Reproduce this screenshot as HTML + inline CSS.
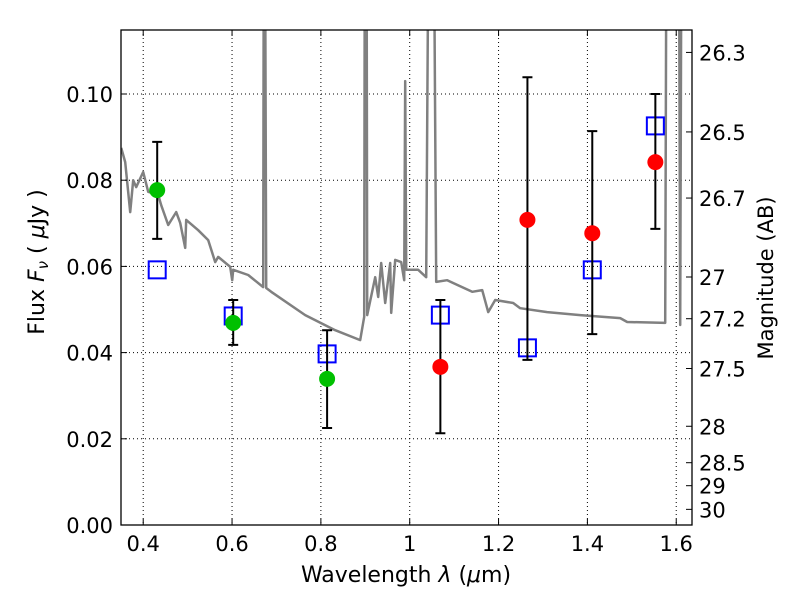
<!DOCTYPE html>
<html><head><meta charset="utf-8"><style>
html,body{margin:0;padding:0;background:#fff;}
svg text{font-family:"DejaVu Sans","Liberation Sans",sans-serif;fill:#000;}
</style></head><body>
<svg id="chart" width="800" height="600" viewBox="0 0 800 600" xmlns="http://www.w3.org/2000/svg">
<defs><clipPath id="clip"><rect x="121" y="30" width="571" height="495"/></clipPath></defs>
<rect x="0" y="0" width="800" height="600" fill="#fff"/>
<g id="grid"></g>
<g id="spec" clip-path="url(#clip)"></g>
<g id="marks"></g>
<rect x="121" y="30" width="571" height="495" fill="none" stroke="#000" stroke-width="1.3"/>
<g id="axes"></g>
<text x="406" y="582" font-size="22" text-anchor="middle">Wavelength  <tspan font-style="italic">λ</tspan> (<tspan font-style="italic">μ</tspan>m)</text>
<text transform="translate(44,262) rotate(-90)" font-size="22" text-anchor="middle">Flux  <tspan font-style="italic">F</tspan><tspan font-style="italic" font-size="15" dy="4">ν</tspan><tspan dy="-4">  (  </tspan><tspan font-style="italic">μ</tspan>Jy )</text>
<text transform="translate(773,278) rotate(-90)" font-size="21" text-anchor="middle">Magnitude (AB)</text>
</svg>
<script>
const specWave=[0.3505,0.3595,0.3707,0.3775,0.3842,0.4,0.4113,0.4338,0.4405,0.4563,0.4743,0.4833,0.4946,0.4968,0.5238,0.5463,0.5621,0.5689,0.5959,0.6004,0.6026,0.6364,0.6702,0.6724,0.6769,0.6882,0.7647,0.8323,0.8886,0.8976,0.8998,0.9021,0.9043,0.9223,0.9291,0.9358,0.9448,0.9561,0.9583,0.9673,0.9809,0.9876,0.9899,0.9921,1.0191,1.0371,1.0462,1.0507,1.0597,1.0844,1.1069,1.1407,1.1632,1.1767,1.1925,1.2330,1.2488,1.3096,1.3839,1.4739,1.4897,1.5752,1.5797,1.6045,1.6090,1.6135,1.636];
const specFlux=[0.0875,0.0842,0.0726,0.0800,0.0784,0.0819,0.0773,0.0766,0.0742,0.0696,0.0726,0.0701,0.0643,0.0708,0.0684,0.0661,0.0610,0.0622,0.0599,0.0568,0.0592,0.0580,0.0552,0.2,0.0550,0.0541,0.0487,0.0452,0.0429,0.0483,0.2,0.2,0.0487,0.0575,0.0529,0.0608,0.0515,0.0608,0.0492,0.0615,0.0610,0.0568,0.1030,0.0592,0.0592,0.0575,0.2,0.2,0.0564,0.0568,0.0557,0.0541,0.0545,0.0494,0.0522,0.0515,0.0503,0.0494,0.0487,0.0480,0.0471,0.0469,0.2,0.2,0.0464,0.2,0.2];
const obsWave=[0.4315,0.6026,0.814,1.069,1.265,1.411,1.553];
const obsFlux=[0.0777,0.0469,0.0339,0.0367,0.0708,0.0677,0.0842];
const obsLo=[0.0664,0.0418,0.0225,0.0213,0.0383,0.0443,0.0687];
const obsHi=[0.0889,0.0522,0.0452,0.0522,0.1039,0.0914,0.1000];
const obsColor=['green','green','green','red','red','red','red'];
const modelFlux=[0.0592,0.0485,0.0397,0.0487,0.0411,0.0592,0.0926];
const xTicks=[0.4,0.6,0.8,1.0,1.2,1.4,1.6];
const xTickLabels=['0.4','0.6','0.8','1','1.2','1.4','1.6'];
const yTicks=[0,0.02,0.04,0.06,0.08,0.10];
const yTickLabels=['0.00','0.02','0.04','0.06','0.08','0.10'];
const magTicks=[26.3,26.5,26.7,27,27.2,27.5,28,28.5,29,30];
const magTickLabels=['26.3','26.5','26.7','27','27.2','27.5','28','28.5','29','30'];

const NS='http://www.w3.org/2000/svg';
const X0=121,X1=692,Y0=525,Y1=30,xmin=0.35,xmax=1.6355,ymin=0,ymax=0.11485;
function sx(v){return X0+(v-xmin)/(xmax-xmin)*(X1-X0);}
function sy(v){return Y0-(v-ymin)/(ymax-ymin)*(Y0-Y1);}
function magY(m){return sy(Math.pow(10,(23.9-m)/2.5));}
function mk(tag,attrs,parent){const e=document.createElementNS(NS,tag);for(const k in attrs)e.setAttribute(k,attrs[k]);parent.appendChild(e);return e;}
const grid=document.getElementById('grid'),spec=document.getElementById('spec'),marks=document.getElementById('marks'),axes=document.getElementById('axes');

xTicks.forEach((t,i)=>{
  const x=sx(t);
  const g=mk('line',{x1:x,x2:x,y1:Y1,y2:Y0,stroke:'#000','stroke-width':1,'stroke-dasharray':'1,3'},grid);
  
  
  mk('line',{x1:x,x2:x,y1:Y0,y2:Y0-6,stroke:'#000','stroke-width':1},axes);
  mk('line',{x1:x,x2:x,y1:Y1,y2:Y1+6,stroke:'#000','stroke-width':1},axes);
  const tx=mk('text',{x:x,y:Y0+26,'font-size':21,'text-anchor':'middle'},axes);
  tx.textContent=xTickLabels[i];
  
  
});
yTicks.forEach((t,i)=>{
  const y=sy(t);
  if(t>0){const g=mk('line',{x1:X0,x2:X1,y1:y,y2:y,stroke:'#000','stroke-width':1,'stroke-dasharray':'1,3'},grid);
  
  }
  mk('line',{x1:X0,x2:X0+6,y1:y,y2:y,stroke:'#000','stroke-width':1},axes);
  const tx=mk('text',{x:X0-8,y:y+8,'font-size':21,'text-anchor':'end'},axes);
  tx.textContent=yTickLabels[i];
  
  
});
magTicks.forEach((m,i)=>{
  const y=magY(m);
  mk('line',{x1:X1,x2:X1-6,y1:y,y2:y,stroke:'#000','stroke-width':1},axes);
  const tx=mk('text',{x:X1+7,y:y+8,'font-size':21,'text-anchor':'start'},axes);
  tx.textContent=magTickLabels[i];
  
  
});

const pts=specWave.map((w,i)=>sx(w).toFixed(1)+','+sy(specFlux[i]).toFixed(1)).join(' ');
const pl=mk('polyline',{points:pts,fill:'none',stroke:'#808080','stroke-width':2.5,'stroke-linejoin':'round'},spec);



obsWave.forEach((w,i)=>{
  const x=sx(w);
  const sq=mk('rect',{x:x-8.5,y:sy(modelFlux[i])-8.5,width:17,height:17,fill:'none',stroke:'#0000ff','stroke-width':2},marks);
  
  
});
obsWave.forEach((w,i)=>{
  const x=sx(w),yl=sy(obsLo[i]),yh=sy(obsHi[i]);
  const eb=mk('path',{d:`M${x},${yl}V${yh}M${x-5},${yl}H${x+5}M${x-5},${yh}H${x+5}`,stroke:'#000','stroke-width':2,fill:'none'},marks);
  
  
  const c=mk('circle',{cx:x,cy:sy(obsFlux[i]),r:8,fill:obsColor[i]==='green'?'#00c000':'#ff0000'},marks);
  
  
});
</script>
</body></html>
